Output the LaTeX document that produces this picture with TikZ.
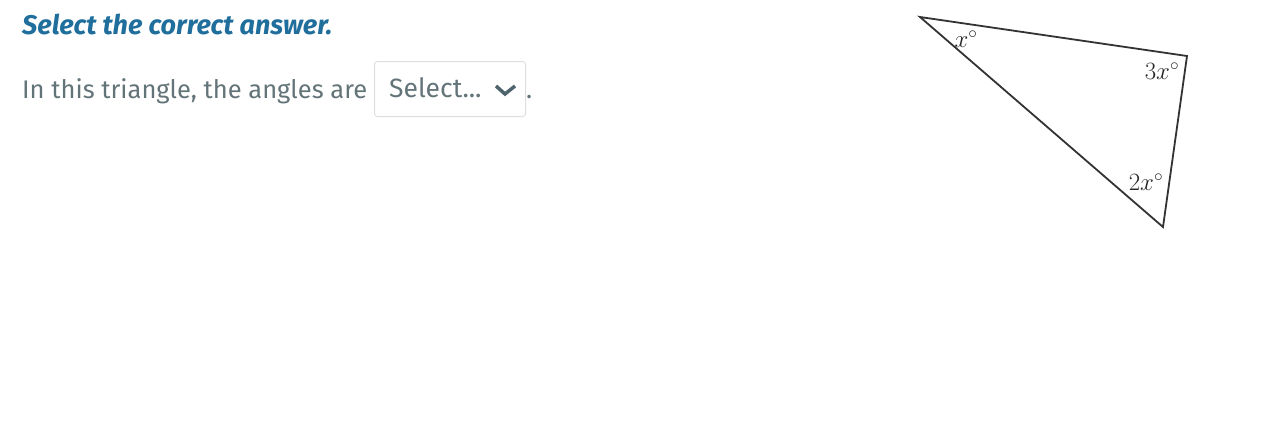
\documentclass[tikz,border=0pt]{standalone}
\usepackage{fontspec}
\setmainfont{Fira Sans}
\usetikzlibrary{positioning}
\definecolor{titleblue}{HTML}{1F6E9C}
\definecolor{textgray}{HTML}{637479}
\definecolor{boxgray}{HTML}{DCDFE0}
\definecolor{chevgray}{HTML}{4E636C}
\definecolor{edgegray}{HTML}{333333}

\begin{document}
\begin{tikzpicture}[x=1pt,y=-1pt]
        \tikzstyle{title}=[anchor=base west, inner sep=0pt, text=titleblue, font=\fontsize{27}{30}\selectfont\bfseries\itshape]
        \tikzstyle{prompt}=[anchor=base west, inner sep=0pt, text=textgray, font=\fontsize{25.5}{30}\selectfont]
        \tikzstyle{dropdown}=[draw=boxgray, line width=1pt, rounded corners=3pt, minimum width=151pt, minimum height=55pt, inner sep=0pt]
        \tikzstyle{angle label}=[inner sep=0pt, text=black!85, font=\fontsize{26}{30}\selectfont]
        \tikzstyle{side}=[draw=edgegray, line width=1.8pt, line join=miter]

        \useasboundingbox (0,0) rectangle (1264,437);

        % Draw the question text
        \node[title] (Q-title) at (22,34) {Select the correct answer.};
        \node[prompt] (Q-text) at (22,98) {In this triangle, the angles are};

        % Draw the select box
        \node[dropdown, anchor=north west] (S) at (374,61) {};
        \node[prompt, font=\fontsize{26.5}{30}\selectfont] (S-text) at (389,97) {Select...};
        \coordinate (chev-l) at (496,86);
        \coordinate (chev-m) at (505,94);
        \coordinate (chev-r) at (515,86);
        \draw[chevgray, line width=3.5pt] (chev-l) -- (chev-m) -- (chev-r);
        \node[prompt] (dot) at (526,98) {.};

        % Draw the triangle
        \coordinate (T-A) at (920,17);
        \coordinate (T-B) at (1187,56);
        \coordinate (T-C) at (1163,227);
        \path[side] (T-A) -- (T-B) -- (T-C) -- cycle;

        % Annotate the angles
        \node[angle label] (L-A) at (966,39) {$x^{\circ}$};
        \node[angle label] (L-B) at (1162,71) {$3x^{\circ}$};
        \node[angle label] (L-C) at (1146,182) {$2x^{\circ}$};
\end{tikzpicture}
\end{document}
